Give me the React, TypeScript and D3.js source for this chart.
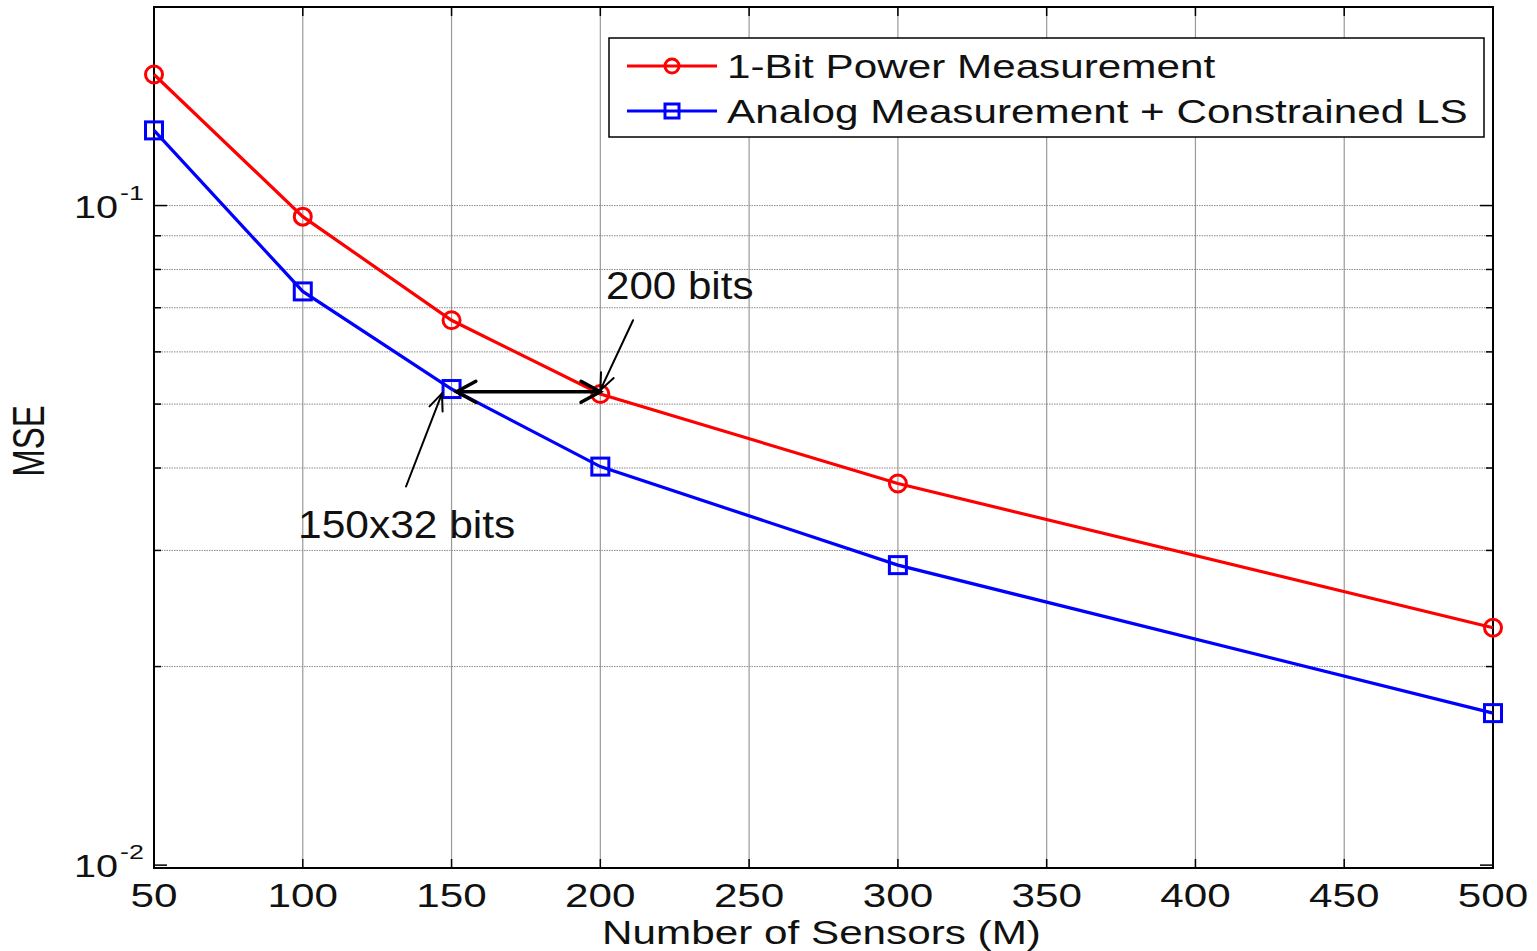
import React from "react";
import * as d3 from "d3";

// Sensor counts and mean squared error of the two estimators
const sensors = [50, 100, 150, 200, 300, 500];
const oneBitMSE = [0.158, 0.0962, 0.067, 0.0518, 0.0379, 0.0229];
const analogMSE = [0.13, 0.0741, 0.0527, 0.0402, 0.0285, 0.017];

const xTicks = [50, 100, 150, 200, 250, 300, 350, 400, 450, 500];
const yMajorTicks = [0.01, 0.1];
const yMajorExponents = ["-2", "-1"];
const yMinorTicks = [0.02, 0.03, 0.04, 0.05, 0.06, 0.07, 0.08, 0.09, 0.2];

const seriesNames = ["1-Bit Power Measurement", "Analog Measurement + Constrained LS"];

const W = 1537;
const H = 951;
const left = 154;
const right = 1493;
const top = 7;
const bottom = 868;

const FONT = "Arial, 'Liberation Sans', Helvetica, sans-serif";

function arrowHead(x1: number, y1: number, x2: number, y2: number, len: number, ang: number) {
  const a = Math.atan2(y2 - y1, x2 - x1);
  const p1 = [x2 - len * Math.cos(a - ang), y2 - len * Math.sin(a - ang)];
  const p2 = [x2 - len * Math.cos(a + ang), y2 - len * Math.sin(a + ang)];
  return `M${p1[0]},${p1[1]}L${x2},${y2}L${p2[0]},${p2[1]}`;
}

export default function App() {
  const x = d3.scaleLinear().domain([50, 500]).range([left, right]);
  const y = d3.scaleLog().domain([0.0099, 0.2]).range([bottom, top]);

  const line = d3
    .line<number>()
    .x((_, i) => x(sensors[i]))
    .y((d) => y(d));

  const red = "#ff0000";
  const blue = "#0000ff";
  const sx = 1.28;

  // annotation geometry in data units
  const dblY = y(0.0522);
  const dblX1 = x(sensors[2]) + 5;
  const dblX2 = x(sensors[3]);
  const a200 = { x1: x(211), y1: y(0.067), x2: x(200), y2: y(0.0525) };
  const a150 = { x1: x(134.7), y1: y(0.0375), x2: x(146.8), y2: y(0.0519) };

  return (
    <svg
      width={W}
      height={H}
      style={{ position: "absolute", left: 0, top: 0, background: "#fff" }}
      fontFamily={FONT}
    >
      <rect x={0} y={0} width={W} height={H} fill="#fff" />

      {/* grid */}
      {xTicks.slice(1, -1).map((t) => (
        <line key={"gx" + t} x1={x(t)} x2={x(t)} y1={top} y2={bottom} stroke="#9a9a9a" strokeWidth={1.2} />
      ))}
      {[...yMinorTicks.filter((t) => t < 0.2), 0.1].map((t) => (
        <line
          key={"gy" + t}
          x1={left}
          x2={right}
          y1={y(t)}
          y2={y(t)}
          stroke="#8a8a8a"
          strokeWidth={1}
          strokeDasharray="1.5,1"
        />
      ))}

      {/* tick marks (inward) */}
      {xTicks.map((t) => (
        <g key={"tx" + t} stroke="#000" strokeWidth={1.5}>
          <line x1={x(t)} x2={x(t)} y1={bottom} y2={bottom - 9} />
          <line x1={x(t)} x2={x(t)} y1={top} y2={top + 9} />
        </g>
      ))}
      {yMajorTicks.map((t) => (
        <g key={"tym" + t} stroke="#000" strokeWidth={1.5}>
          <line x1={left} x2={left + 13} y1={y(t)} y2={y(t)} />
          <line x1={right} x2={right - 13} y1={y(t)} y2={y(t)} />
        </g>
      ))}
      {yMinorTicks.map((t) => (
        <g key={"tyn" + t} stroke="#000" strokeWidth={1.5}>
          <line x1={left} x2={left + 7} y1={y(t)} y2={y(t)} />
          <line x1={right} x2={right - 7} y1={y(t)} y2={y(t)} />
        </g>
      ))}

      {/* axes box */}
      <rect x={left} y={top} width={right - left} height={bottom - top} fill="none" stroke="#000" strokeWidth={2} />

      {/* x tick labels */}
      {xTicks.map((t) => (
        <text
          key={"lx" + t}
          transform={`translate(${x(t)},${907}) scale(${sx},1)`}
          textAnchor="middle"
          fontSize={33}
          fill="#111"
        >
          {t}
        </text>
      ))}

      {/* y tick labels */}
      {yMajorTicks.map((t, i) => (
        <g key={"ly" + t} fill="#111">
          <text transform={`translate(118,${y(t) + 12}) scale(${sx},1)`} textAnchor="end" fontSize={31}>
            10
          </text>
          <text transform={`translate(120,${y(t) - 6}) scale(${sx},1)`} textAnchor="start" fontSize={21}>
            {yMajorExponents[i]}
          </text>
        </g>
      ))}

      {/* axis titles */}
      <text
        transform={`translate(${(left + right) / 2 - 2},${944}) scale(${sx},1)`}
        textAnchor="middle"
        fontSize={33}
        fill="#111"
      >
        Number of Sensors (M)
      </text>
      <text
        transform={`translate(${44},${441}) scale(1.35,1) rotate(-90)`}
        textAnchor="middle"
        fontSize={33}
        fill="#111"
      >
        MSE
      </text>

      {/* series */}
      <path d={line(oneBitMSE) ?? ""} fill="none" stroke={red} strokeWidth={3.2} />
      <path d={line(analogMSE) ?? ""} fill="none" stroke={blue} strokeWidth={3.2} />
      {oneBitMSE.map((v, i) => (
        <circle key={"c" + i} cx={x(sensors[i])} cy={y(v)} r={8.5} fill="none" stroke={red} strokeWidth={3} />
      ))}
      {analogMSE.map((v, i) => (
        <rect
          key={"s" + i}
          x={x(sensors[i]) - 8.5}
          y={y(v) - 8.5}
          width={17}
          height={17}
          fill="none"
          stroke={blue}
          strokeWidth={3}
        />
      ))}

      {/* annotations */}
      <g stroke="#000" fill="none" strokeLinecap="round">
        <line x1={dblX1} x2={dblX2} y1={dblY} y2={dblY} strokeWidth={3.5} />
        <path d={arrowHead(dblX2, dblY, dblX1, dblY, 22, 0.5)} strokeWidth={3.5} />
        <path d={arrowHead(dblX1, dblY, dblX2, dblY, 22, 0.5)} strokeWidth={3.5} />
        <line x1={a200.x1} y1={a200.y1} x2={a200.x2} y2={a200.y2} strokeWidth={2} />
        <path d={arrowHead(a200.x1, a200.y1, a200.x2, a200.y2, 18, 0.4)} strokeWidth={2} />
        <line x1={a150.x1} y1={a150.y1} x2={a150.x2} y2={a150.y2} strokeWidth={2} />
        <path d={arrowHead(a150.x1, a150.y1, a150.x2, a150.y2, 18, 0.4)} strokeWidth={2} />
      </g>
      <text transform={`translate(606,299) scale(1.08,1)`} fontSize={39} fill="#111">
        200 bits
      </text>
      <text transform={`translate(298,538) scale(1.09,1)`} fontSize={39} fill="#111">
        150x32 bits
      </text>

      {/* legend */}
      <rect x={609} y={38} width={875} height={99} fill="#fff" stroke="#000" strokeWidth={1.5} />
      {seriesNames.map((name, i) => {
        const ly = 66 + i * 45;
        const col = i === 0 ? red : blue;
        return (
          <g key={name}>
            <line x1={627} x2={717} y1={ly} y2={ly} stroke={col} strokeWidth={3.2} />
            {i === 0 ? (
              <circle cx={672} cy={ly} r={7} fill="none" stroke={col} strokeWidth={3} />
            ) : (
              <rect x={665} y={ly - 7} width={14} height={14} fill="none" stroke={col} strokeWidth={3} />
            )}
            <text transform={`translate(727,${ly + 12}) scale(${sx},1)`} fontSize={33} fill="#111">
              {name}
            </text>
          </g>
        );
      })}
    </svg>
  );
}
